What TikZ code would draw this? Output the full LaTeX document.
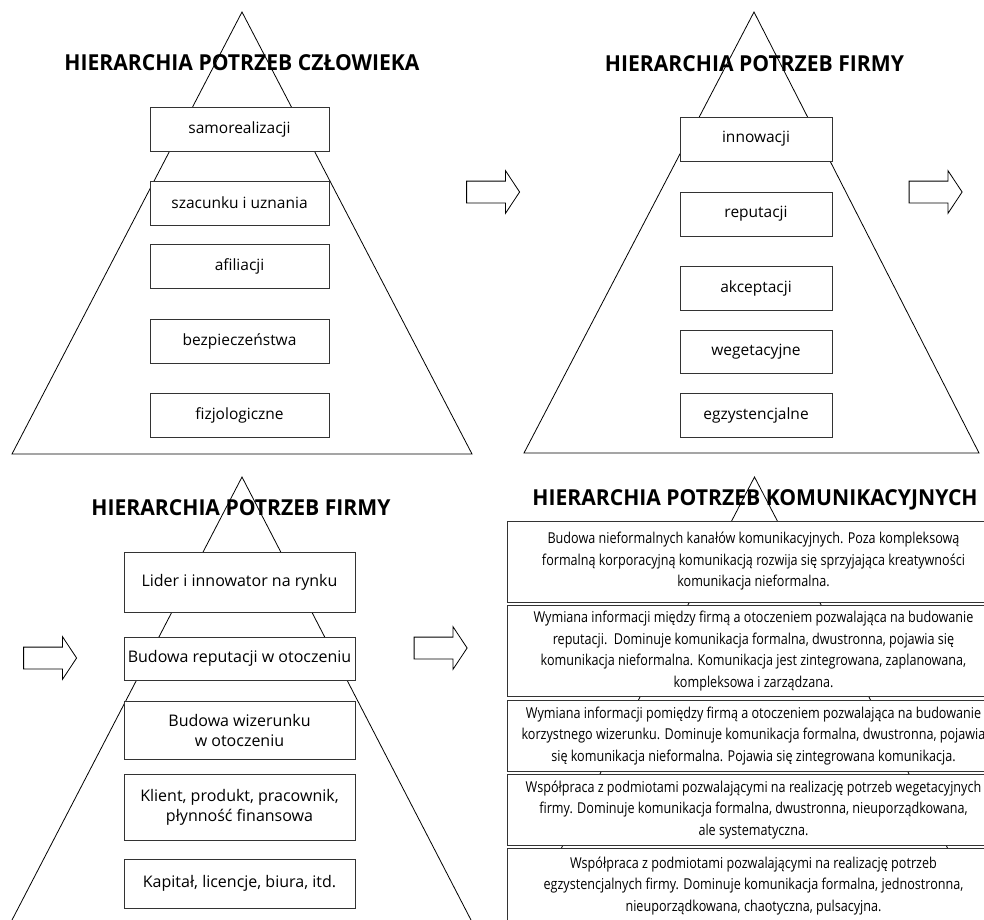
\documentclass[tikz,border=0pt]{standalone}
\usepackage{fontspec}
\setmainfont{Open Sans}
\newfontfamily\narrowfont[FakeStretch=0.84]{Open Sans}
\newfontfamily\titlefont[FakeStretch=0.96]{Open Sans}
\usetikzlibrary{shapes.arrows}

\begin{document}
\begin{tikzpicture}[x=1pt,y=-1pt,font=\fontsize{16}{20}\selectfont,
 pyr/.style={line width=.8pt},
 title/.style={anchor=base,inner sep=0pt,font=\titlefont\bfseries\fontsize{22}{26}\selectfont},
 lvl/.style={draw=black!80,fill=white,line width=1pt,align=center,inner sep=2pt,minimum height=44pt},
 human/.style={lvl,minimum width=179pt,font=\fontsize{15.5}{20}\selectfont},
 firm/.style={lvl,minimum width=152pt,font=\fontsize{15.5}{20}\selectfont},
 goal/.style={lvl,minimum width=231pt},
 comm/.style={lvl,minimum width=493pt,font=\narrowfont\fontsize{15}{21.5}\selectfont},
 nextarr/.style={draw,single arrow,line width=.8pt,inner xsep=0pt,inner ysep=10.5pt,minimum height=53pt,
   minimum width=42pt,single arrow head extend=10.5pt,single arrow tip angle=113}]

\useasboundingbox (0,0) rectangle (984,919);
\clip (0,0) rectangle (984,919);

% pyramids
\draw[pyr] (242,12) -- (12,454) -- (472,454) -- cycle;
\draw[pyr] (754,12) -- (524,453) -- (979,453) -- cycle;
\draw[pyr] (12,920) -- (242,477) -- (471,920);
\draw[pyr] (524,920) -- (754.5,477) -- (985,920);

\node[title] (tczl) at (242,70) {HIERARCHIA POTRZEB CZŁOWIEKA};
\node[title] (tfirm) at (754.5,71) {HIERARCHIA POTRZEB FIRMY};
\node[title] (tfirm2) at (241,515) {HIERARCHIA POTRZEB FIRMY};
\node[title] (tkom) at (755,505) {HIERARCHIA POTRZEB KOMUNIKACYJNYCH};

\node[human] (samorealiz) at (239.5,129) {samorealizacji};
\node[human] (szacunek) at (239.5,203) {szacunku i uznania};
\node[human] (afiliacja) at (239.5,266) {afiliacji};
\node[human] (bezpiecz) at (239.5,341) {bezpieczeństwa};
\node[human] (fizjo) at (239.5,415) {fizjologiczne};

\node[firm] (innow) at (756,139) {innowacji};
\node[firm] (reput) at (756,214) {reputacji};
\node[firm] (akcept) at (756,288) {akceptacji};
\node[firm,minimum height=43pt] (weget) at (756,351.5) {wegetacyjne};
\node[firm] (egzyst) at (756,415) {egzystencjalne};

\node[goal,minimum height=60pt] (lider) at (239.5,582) {Lider i innowator na rynku};
\node[goal,minimum height=43pt] (reputotocz) at (239.5,658.5) {Budowa reputacji w otoczeniu};
\node[goal,minimum height=58pt] (wizerunek) at (239.5,730) {Budowa wizerunku\\w otoczeniu};
\node[goal,minimum height=66pt] (klient) at (239.5,807) {Klient, produkt, pracownik,\\płynność finansowa};
\node[goal,minimum height=49pt] (kapital) at (239.5,883.5) {Kapitał, licencje, biura, itd.};

\node[comm,minimum height=81pt] (kom1) at (753.5,561.5) {Budowa nieformalnych kanałów komunikacyjnych. Poza kompleksową\\
formalną korporacyjną komunikacją rozwija się sprzyjająca kreatywności\\komunikacja nieformalna.};
\node[comm,minimum height=91pt] (kom2) at (753.5,651) {Wymiana informacji między firmą a otoczeniem pozwalająca na budowanie\\
reputacji.\ \ Dominuje komunikacja formalna, dwustronna, pojawia się\\
komunikacja nieformalna. Komunikacja jest zintegrowana, zaplanowana,\\kompleksowa i zarządzana.};
\node[comm,minimum height=71pt] (kom3) at (753.5,736) {Wymiana informacji pomiędzy firmą a otoczeniem pozwalająca na budowanie\\
korzystnego wizerunku. Dominuje komunikacja formalna, dwustronna, pojawia\\
się komunikacja nieformalna. Pojawia się zintegrowana komunikacja.};
\node[comm,minimum height=71pt] (kom4) at (753.5,810) {Współpraca z podmiotami pozwalającymi na realizację potrzeb wegetacyjnych\\
firmy. Dominuje komunikacja formalna, dwustronna, nieuporządkowana,\\ale systematyczna.};
\node[comm,minimum height=76pt] (kom5) at (753.5,886) {Współpraca z podmiotami pozwalającymi na realizację potrzeb\\
egzystencjalnych firmy. Dominuje komunikacja formalna, jednostronna,\\nieuporządkowana, chaotyczna, pulsacyjna.};

\node[nextarr] (arr1) at (489.5,192) {};
\node[nextarr] (arr2) at (932,192) {};
\node[nextarr] (arr3) at (46.5,658) {};
\node[nextarr] (arr4) at (437,648) {};

\end{tikzpicture}
\end{document}
